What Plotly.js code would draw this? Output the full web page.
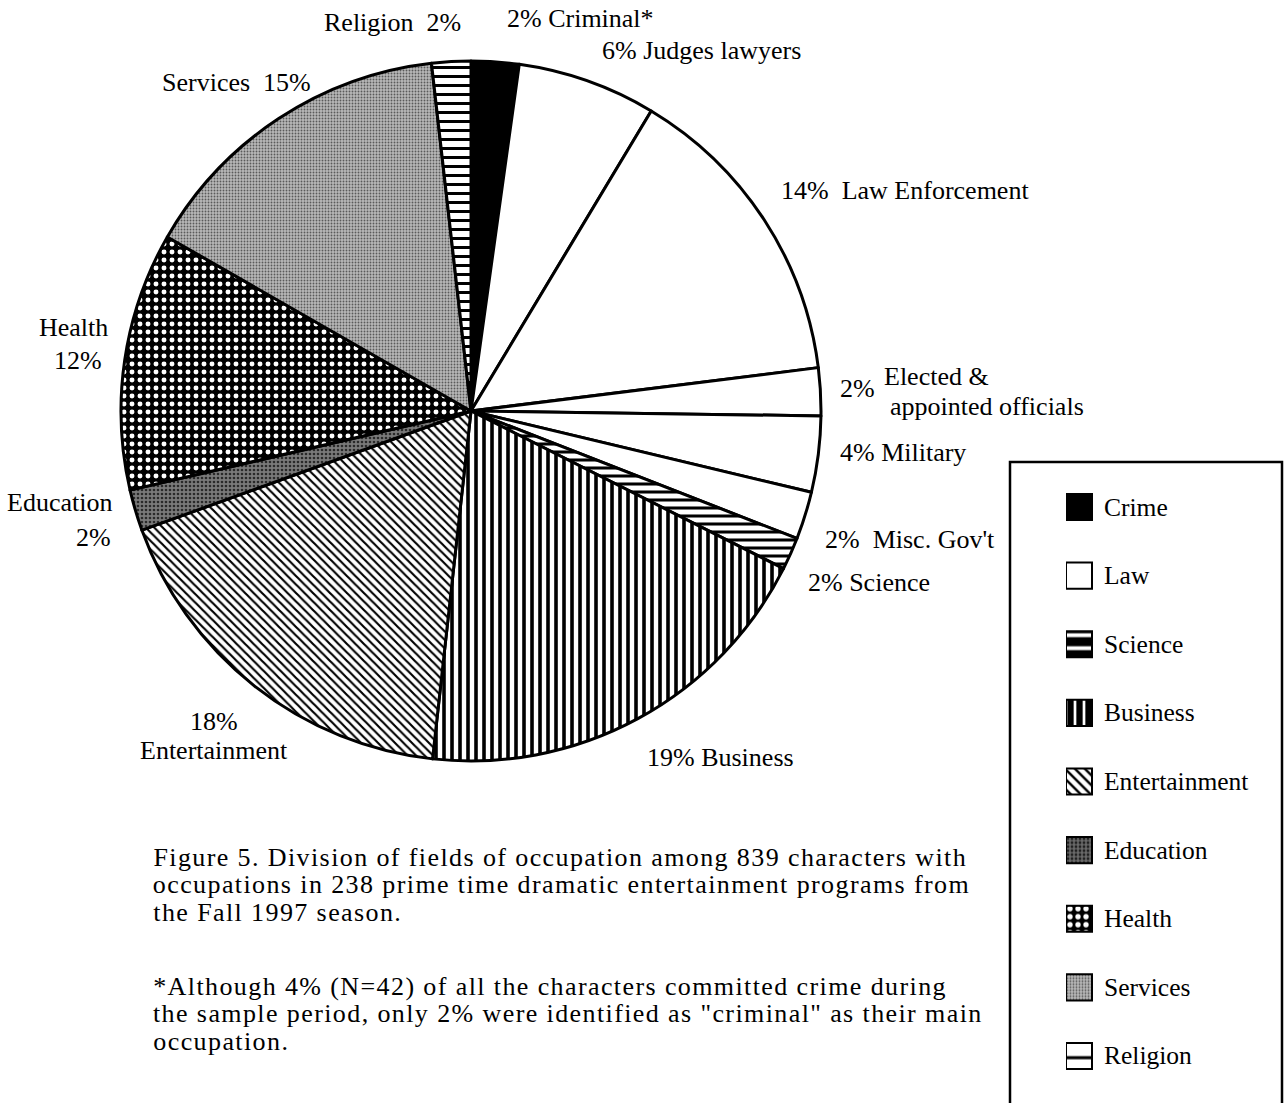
<!DOCTYPE html>
<html>
<head>
<meta charset="utf-8">
<script src="https://cdn.plot.ly/plotly-3.0.1.min.js"></script>
<style>
html,body{margin:0;padding:0;background:#fff;}
#chart{width:1287px;height:1103px;}
.annotation[data-index="0"] text,.annotation[data-index="1"] text,.annotation[data-index="2"] text,
.annotation[data-index="3"] text,.annotation[data-index="4"] text,.annotation[data-index="5"] text{letter-spacing:1.4px;}
</style>
</head>
<body>
<div id="chart"></div>
<script>
// ---- data ----
const sliceLabels = ['Criminal*', 'Judges lawyers', 'Law Enforcement', 'Elected & appointed officials', 'Military', "Misc. Gov't", 'Science', 'Business', 'Entertainment', 'Education', 'Health', 'Services', 'Religion'];
const sliceShare = [2.2, 6.4, 14.4, 2.2, 3.5, 2.2, 1.5, 19.3, 17.7, 1.9, 11.9, 14.9, 1.8];
const slicePctText = ['2%', '6%', '14%', '2%', '4%', '2%', '2%', '19%', '18%', '2%', '12%', '15%', '2%'];
const sliceGroup = ['Crime', 'Law', 'Law', 'Law', 'Law', 'Law', 'Science', 'Business', 'Entertainment', 'Education', 'Health', 'Services', 'Religion'];
const legendCats = ['Crime', 'Law', 'Science', 'Business', 'Entertainment', 'Education', 'Health', 'Services', 'Religion'];
const legendSwatch = [1, 1, 1, 1, 1, 1, 1, 1, 1];
const captionLines = [
  'Figure 5. Division of fields of occupation among 839 characters with',
  'occupations in 238 prime time dramatic entertainment programs from',
  'the Fall 1997 season.',
  '*Although 4% (N=42) of all the characters committed crime during',
  'the sample period, only 2% were identified as "criminal" as their main',
  'occupation.'
];

// ---- styles per group ----
const groupStyle = {
  Crime:         {shape: '',   bg: '#000000', fg: '#000000', size: 8, sol: 0.3},
  Law:           {shape: '',   bg: '#ffffff', fg: '#000000', size: 8, sol: 0.3},
  Science:       {shape: '-',  bg: '#ffffff', fg: '#000000', size: 8, sol: 0.38},
  Business:      {shape: '|',  bg: '#ffffff', fg: '#000000', size: 8, sol: 0.45},
  Entertainment: {shape: '\\', bg: '#ffffff', fg: '#000000', size: 6, sol: 0.36},
  Education:     {shape: '.',  bg: '#7a7a7a', fg: '#2a2a2a', size: 4, sol: 0.35},
  Health:        {shape: '.',  bg: '#000000', fg: '#ffffff', size: 8, sol: 0.3},
  Services:      {shape: '.',  bg: '#b8b8b8', fg: '#5a5a5a', size: 3, sol: 0.3},
  Religion:      {shape: '-',  bg: '#ffffff', fg: '#000000', size: 9, sol: 0.33}
};
const legendStyle = {
  Crime:         {shape: '',   bg: '#000000', fg: '#000000', size: 8, sol: 0.3},
  Law:           {shape: '',   bg: '#ffffff', fg: '#000000', size: 8, sol: 0.3},
  Science:       {shape: '-',  bg: '#000000', fg: '#ffffff', size: 13, sol: 0.3},
  Business:      {shape: '|',  bg: '#ffffff', fg: '#000000', size: 9, sol: 0.7},
  Entertainment: {shape: '\\', bg: '#ffffff', fg: '#000000', size: 7, sol: 0.35},
  Education:     {shape: '.',  bg: '#6a6a6a', fg: '#202020', size: 4, sol: 0.4},
  Health:        {shape: '.',  bg: '#000000', fg: '#ffffff', size: 8, sol: 0.35},
  Services:      {shape: '.',  bg: '#b8b8b8', fg: '#5a5a5a', size: 3, sol: 0.3},
  Religion:      {shape: '-',  bg: '#ffffff', fg: '#000000', size: 26, sol: 0.12}
};

const W = 1287, H = 1103;
const px = x => x / W;
const py = y => 1 - y / H;
const FONT = 'Liberation Serif, Times New Roman, Times, serif';
const CAP_LS = 1.4; // css letter-spacing of caption lines (px)

const pie = {
  type: 'pie',
  labels: sliceLabels,
  values: sliceShare,
  sort: false,
  direction: 'clockwise',
  rotation: 0,
  textinfo: 'none',
  hoverinfo: 'label+percent',
  showlegend: false,
  domain: {x: [px(121), px(821)], y: [py(761), py(61)]},
  marker: {
    colors: sliceGroup.map(g => groupStyle[g].bg),
    line: {color: '#000000', width: 3},
    pattern: {
      shape: sliceGroup.map(g => groupStyle[g].shape),
      bgcolor: sliceGroup.map(g => groupStyle[g].bg),
      fgcolor: sliceGroup.map(g => groupStyle[g].fg),
      size: sliceGroup.map(g => groupStyle[g].size),
      solidity: sliceGroup.map(g => groupStyle[g].sol)
    }
  }
};

// one bar trace per legend swatch, drawn on a hidden axis pair
const legendBars = legendCats.map((c, i) => {
  const s = legendStyle[c];
  return {
    type: 'bar',
    orientation: 'h',
    x: [legendSwatch[i]],
    y: [c],
    xaxis: 'x',
    yaxis: 'y',
    width: 0.38,
    showlegend: false,
    hoverinfo: 'y',
    marker: {
      color: s.bg,
      line: {color: '#000000', width: 2},
      pattern: s.shape ? {shape: s.shape, bgcolor: s.bg, fgcolor: s.fg, size: s.size, solidity: s.sol, fillmode: 'replace'} : undefined
    }
  };
});

const annotations = [];
const capY = [857, 884, 912, 986, 1013, 1041];
captionLines.forEach((t, i) => {
  // the css letter-spacing shifts middle-anchored svg text left by half the added width
  const shift = t.length * CAP_LS / 2;
  annotations.push({text: t, x: px(151 + shift), y: py(capY[i]), xref: 'paper', yref: 'paper', xanchor: 'left', yanchor: 'middle', showarrow: false, font: {family: FONT, size: 26, color: '#000'}});
});

const labelFont = {family: FONT, size: 26, color: '#000'};
function lab(text, x, y, xanchor, size) {
  return {text: text, x: px(x), y: py(y), xref: 'paper', yref: 'paper', xanchor: xanchor || 'left', yanchor: 'middle', showarrow: false, font: size ? {family: FONT, size: size, color: '#000'} : labelFont};
}
annotations.push(
  lab('Religion&nbsp;&nbsp;' + slicePctText[12], 322, 22),
  lab(slicePctText[0] + ' Criminal*', 505, 18),
  lab(slicePctText[1] + ' Judges lawyers', 600, 50),
  lab('Services&nbsp;&nbsp;' + slicePctText[11], 160, 83),
  lab(slicePctText[2] + '&nbsp;&nbsp;Law Enforcement', 779, 190),
  lab(slicePctText[3], 838, 388),
  lab('Elected &', 882, 376),
  lab('appointed officials', 888, 406),
  lab(slicePctText[4] + ' Military', 838, 452),
  lab(slicePctText[5] + '&nbsp;&nbsp;Misc. Gov\'t', 823, 539),
  lab(slicePctText[6] + ' Science', 806, 582),
  lab(slicePctText[7] + ' Business', 645, 757),
  lab(slicePctText[8], 214, 721, 'center'),
  lab('Entertainment', 214, 750, 'center'),
  lab('Health', 110, 327, 'right'),
  lab(slicePctText[10], 104, 360, 'right'),
  lab('Education', 114, 503, 'right'),
  lab(slicePctText[9], 113, 537, 'right')
);
legendCats.forEach(c => {
  annotations.push({text: c, x: 1.4, y: c, xref: 'x', yref: 'y', xanchor: 'left', yanchor: 'middle', showarrow: false, font: {family: FONT, size: 25.5, color: '#000'}});
});

const layout = {
  width: W, height: H,
  margin: {l: 0, r: 0, t: 0, b: 0},
  paper_bgcolor: '#ffffff',
  plot_bgcolor: 'rgba(0,0,0,0)',
  showlegend: false,
  xaxis: {domain: [px(1066), px(1280)], range: [0, (1280 - 1066) / 26], visible: false, fixedrange: true},
  yaxis: {domain: [py(1090.3), py(472.7)], range: [8.5, -0.5], type: 'category', categoryarray: legendCats, visible: false, fixedrange: true},
  annotations: annotations,
  shapes: [
    {type: 'rect', xref: 'paper', yref: 'paper', x0: px(1010), x1: px(1282), y0: py(1120), y1: py(462), line: {color: '#000', width: 2.5}, fillcolor: 'rgba(0,0,0,0)', layer: 'below'}
  ]
};

Plotly.newPlot('chart', [pie].concat(legendBars), layout, {displayModeBar: false, staticPlot: true});
</script>
</body>
</html>
